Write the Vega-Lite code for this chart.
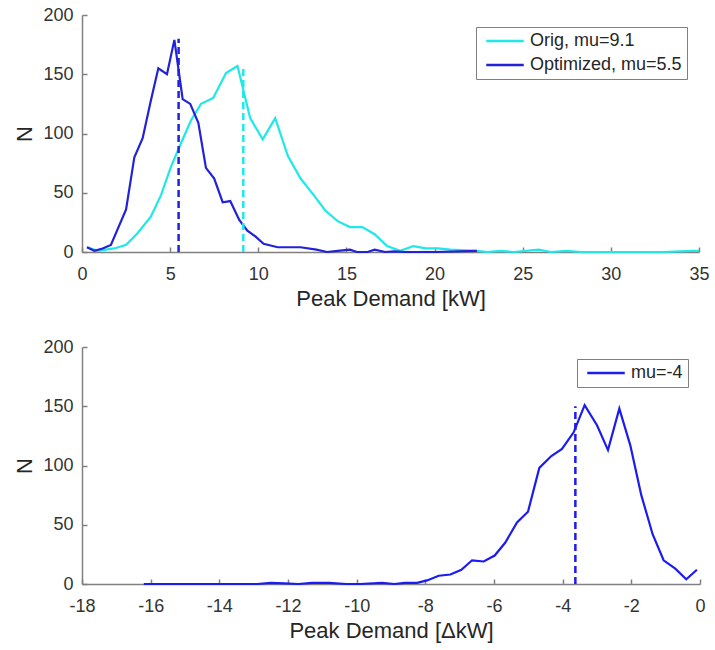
{
  "$schema": "https://vega.github.io/schema/vega-lite/v6.json",
  "background": "white",
  "padding": {"left": 13, "top": 6, "right": 5, "bottom": 5},
  "spacing": 29,
  "config": {
    "font": "Liberation Sans",
    "view": {"stroke": null},
    "axis": {
      "grid": false,
      "domainColor": "#808080",
      "domainWidth": 1.5,
      "tickColor": "#808080",
      "tickWidth": 1.5,
      "tickSize": -5,
      "labelFont": "Liberation Sans",
      "labelFontSize": 18,
      "labelColor": "#333333",
      "labelExpr": "'' + datum.value",
      "titleFont": "Liberation Sans",
      "titleFontSize": 22,
      "titleFontWeight": "normal",
      "titleColor": "#262626"
    },
    "axisX": {"labelPadding": 18, "titlePadding": 5, "labelFlush": false},
    "axisY": {"labelPadding": 14, "titlePadding": 6},
    "legend": {
      "orient": "top-right",
      "offset": 12,
      "labelFont": "Liberation Sans",
      "labelFontSize": 18,
      "labelColor": "#262626",
      "labelLimit": 400,
      "strokeColor": "#808080",
      "fillColor": "white",
      "padding": 5,
      "cornerRadius": 0,
      "symbolType": "M-0.5,0H4.5",
      "symbolSize": 225,
      "symbolStrokeWidth": 2.5,
      "labelOffset": 31,
      "rowPadding": 6
    }
  },
  "datasets": {
    "topLines": [
      {"series": "Orig, mu=9.1", "x": 0.28, "n": 4},
      {"series": "Orig, mu=9.1", "x": 0.89, "n": 1},
      {"series": "Orig, mu=9.1", "x": 1.83, "n": 3},
      {"series": "Orig, mu=9.1", "x": 2.5, "n": 6},
      {"series": "Orig, mu=9.1", "x": 3.16, "n": 16},
      {"series": "Orig, mu=9.1", "x": 3.91, "n": 30},
      {"series": "Orig, mu=9.1", "x": 4.48, "n": 48},
      {"series": "Orig, mu=9.1", "x": 5.05, "n": 72},
      {"series": "Orig, mu=9.1", "x": 5.62, "n": 92},
      {"series": "Orig, mu=9.1", "x": 6.18, "n": 111},
      {"series": "Orig, mu=9.1", "x": 6.75, "n": 125},
      {"series": "Orig, mu=9.1", "x": 7.44, "n": 130},
      {"series": "Orig, mu=9.1", "x": 8.17, "n": 151},
      {"series": "Orig, mu=9.1", "x": 8.82, "n": 157},
      {"series": "Orig, mu=9.1", "x": 9.54, "n": 113},
      {"series": "Orig, mu=9.1", "x": 10.25, "n": 95},
      {"series": "Orig, mu=9.1", "x": 10.96, "n": 113},
      {"series": "Orig, mu=9.1", "x": 11.68, "n": 81},
      {"series": "Orig, mu=9.1", "x": 12.4, "n": 62},
      {"series": "Orig, mu=9.1", "x": 13.2, "n": 47},
      {"series": "Orig, mu=9.1", "x": 13.8, "n": 35},
      {"series": "Orig, mu=9.1", "x": 14.5, "n": 26},
      {"series": "Orig, mu=9.1", "x": 15.2, "n": 21},
      {"series": "Orig, mu=9.1", "x": 15.9, "n": 21},
      {"series": "Orig, mu=9.1", "x": 16.6, "n": 15},
      {"series": "Orig, mu=9.1", "x": 17.3, "n": 5},
      {"series": "Orig, mu=9.1", "x": 18.05, "n": 1},
      {"series": "Orig, mu=9.1", "x": 18.8, "n": 5},
      {"series": "Orig, mu=9.1", "x": 19.5, "n": 3},
      {"series": "Orig, mu=9.1", "x": 20.2, "n": 3},
      {"series": "Orig, mu=9.1", "x": 20.9, "n": 2},
      {"series": "Orig, mu=9.1", "x": 22.4, "n": 1},
      {"series": "Orig, mu=9.1", "x": 23.0, "n": 0},
      {"series": "Orig, mu=9.1", "x": 23.7, "n": 1},
      {"series": "Orig, mu=9.1", "x": 24.5, "n": 0},
      {"series": "Orig, mu=9.1", "x": 25.9, "n": 2},
      {"series": "Orig, mu=9.1", "x": 26.6, "n": 0},
      {"series": "Orig, mu=9.1", "x": 27.5, "n": 1},
      {"series": "Orig, mu=9.1", "x": 28.3, "n": 0},
      {"series": "Orig, mu=9.1", "x": 30.5, "n": 0},
      {"series": "Orig, mu=9.1", "x": 31.8, "n": 0},
      {"series": "Orig, mu=9.1", "x": 33.0, "n": 0},
      {"series": "Orig, mu=9.1", "x": 34.6, "n": 1},
      {"series": "Orig, mu=9.1", "x": 35.0, "n": 1},
      {"series": "Optimized, mu=5.5", "x": 0.28, "n": 4},
      {"series": "Optimized, mu=5.5", "x": 0.7, "n": 1},
      {"series": "Optimized, mu=5.5", "x": 1.17, "n": 3},
      {"series": "Optimized, mu=5.5", "x": 1.64, "n": 6},
      {"series": "Optimized, mu=5.5", "x": 2.5, "n": 36},
      {"series": "Optimized, mu=5.5", "x": 2.97, "n": 80},
      {"series": "Optimized, mu=5.5", "x": 3.44, "n": 96},
      {"series": "Optimized, mu=5.5", "x": 3.91, "n": 128},
      {"series": "Optimized, mu=5.5", "x": 4.33, "n": 155},
      {"series": "Optimized, mu=5.5", "x": 4.82, "n": 150},
      {"series": "Optimized, mu=5.5", "x": 5.24, "n": 179},
      {"series": "Optimized, mu=5.5", "x": 5.71, "n": 129},
      {"series": "Optimized, mu=5.5", "x": 6.14, "n": 125},
      {"series": "Optimized, mu=5.5", "x": 6.6, "n": 109},
      {"series": "Optimized, mu=5.5", "x": 7.03, "n": 71},
      {"series": "Optimized, mu=5.5", "x": 7.5, "n": 62},
      {"series": "Optimized, mu=5.5", "x": 7.98, "n": 42},
      {"series": "Optimized, mu=5.5", "x": 8.41, "n": 43},
      {"series": "Optimized, mu=5.5", "x": 8.92, "n": 27},
      {"series": "Optimized, mu=5.5", "x": 9.38, "n": 18},
      {"series": "Optimized, mu=5.5", "x": 9.85, "n": 13},
      {"series": "Optimized, mu=5.5", "x": 10.3, "n": 7},
      {"series": "Optimized, mu=5.5", "x": 11.1, "n": 4},
      {"series": "Optimized, mu=5.5", "x": 12.4, "n": 4},
      {"series": "Optimized, mu=5.5", "x": 13.3, "n": 2},
      {"series": "Optimized, mu=5.5", "x": 13.9, "n": 0},
      {"series": "Optimized, mu=5.5", "x": 14.5, "n": 1},
      {"series": "Optimized, mu=5.5", "x": 15.2, "n": 2},
      {"series": "Optimized, mu=5.5", "x": 15.6, "n": 0},
      {"series": "Optimized, mu=5.5", "x": 16.2, "n": 0},
      {"series": "Optimized, mu=5.5", "x": 16.6, "n": 2},
      {"series": "Optimized, mu=5.5", "x": 17.2, "n": 0},
      {"series": "Optimized, mu=5.5", "x": 17.7, "n": 0.5},
      {"series": "Optimized, mu=5.5", "x": 18.3, "n": 0},
      {"series": "Optimized, mu=5.5", "x": 20.0, "n": 0},
      {"series": "Optimized, mu=5.5", "x": 22.4, "n": 1}
    ],
    "topMeans": [
      {"series": "Orig, mu=9.1", "mean": 9.15, "bottom": 0, "top": 157},
      {"series": "Optimized, mu=5.5", "mean": 5.48, "bottom": 0, "top": 180}
    ],
    "bottomLines": [
      {"series": "mu=-4", "x": -16.2, "n": 0},
      {"series": "mu=-4", "x": -15.5, "n": 0},
      {"series": "mu=-4", "x": -14.8, "n": 0},
      {"series": "mu=-4", "x": -14.1, "n": 0},
      {"series": "mu=-4", "x": -13.4, "n": 0},
      {"series": "mu=-4", "x": -12.9, "n": 0},
      {"series": "mu=-4", "x": -12.5, "n": 1},
      {"series": "mu=-4", "x": -12.1, "n": 0.5},
      {"series": "mu=-4", "x": -11.7, "n": 0},
      {"series": "mu=-4", "x": -11.3, "n": 1},
      {"series": "mu=-4", "x": -10.8, "n": 1},
      {"series": "mu=-4", "x": -10.3, "n": 0},
      {"series": "mu=-4", "x": -9.9, "n": 0},
      {"series": "mu=-4", "x": -9.27, "n": 1},
      {"series": "mu=-4", "x": -8.9, "n": 0},
      {"series": "mu=-4", "x": -8.6, "n": 1},
      {"series": "mu=-4", "x": -8.24, "n": 1},
      {"series": "mu=-4", "x": -7.95, "n": 3},
      {"series": "mu=-4", "x": -7.61, "n": 7},
      {"series": "mu=-4", "x": -7.27, "n": 8},
      {"series": "mu=-4", "x": -6.95, "n": 12},
      {"series": "mu=-4", "x": -6.64, "n": 20},
      {"series": "mu=-4", "x": -6.3, "n": 19},
      {"series": "mu=-4", "x": -5.98, "n": 24},
      {"series": "mu=-4", "x": -5.67, "n": 35},
      {"series": "mu=-4", "x": -5.33, "n": 52},
      {"series": "mu=-4", "x": -5.01, "n": 61},
      {"series": "mu=-4", "x": -4.68, "n": 98},
      {"series": "mu=-4", "x": -4.33, "n": 108},
      {"series": "mu=-4", "x": -4.02, "n": 114},
      {"series": "mu=-4", "x": -3.68, "n": 128},
      {"series": "mu=-4", "x": -3.36, "n": 151},
      {"series": "mu=-4", "x": -3.0, "n": 134},
      {"series": "mu=-4", "x": -2.68, "n": 113},
      {"series": "mu=-4", "x": -2.35, "n": 148},
      {"series": "mu=-4", "x": -2.03, "n": 117},
      {"series": "mu=-4", "x": -1.71, "n": 75},
      {"series": "mu=-4", "x": -1.38, "n": 42},
      {"series": "mu=-4", "x": -1.06, "n": 20},
      {"series": "mu=-4", "x": -0.72, "n": 13},
      {"series": "mu=-4", "x": -0.4, "n": 4},
      {"series": "mu=-4", "x": -0.09, "n": 12}
    ],
    "bottomMeans": [
      {"series": "mu=-4", "mean": -3.63, "bottom": 0, "top": 150}
    ]
  },
  "vconcat": [
    {
      "width": 617,
      "height": 237,
      "layer": [
        {
          "data": {"name": "topLines"},
          "mark": {"type": "line", "strokeWidth": 2.2},
          "encoding": {
            "x": {"field": "x", "type": "quantitative", "scale": {"domain": [0, 35], "nice": false}, "axis": {"values": [0, 5, 10, 15, 20, 25, 30, 35], "title": "Peak Demand [kW]"}},
            "y": {"field": "n", "type": "quantitative", "scale": {"domain": [0, 200], "nice": false}, "axis": {"values": [0, 50, 100, 150, 200], "title": "N"}},
            "color": {"field": "series", "type": "nominal", "scale": {"domain": ["Orig, mu=9.1", "Optimized, mu=5.5"], "range": ["#1ee8e8", "#2222d8"]}, "legend": {"title": null}},
            "order": {"field": "x", "type": "quantitative"}
          }
        },
        {
          "data": {"name": "topMeans"},
          "mark": {"type": "rule", "strokeWidth": 2.5, "strokeDash": [7, 4]},
          "encoding": {
            "x": {"field": "mean", "type": "quantitative"},
            "y": {"field": "bottom", "type": "quantitative"},
            "y2": {"field": "top"},
            "color": {"field": "series", "type": "nominal"}
          }
        }
      ]
    },
    {
      "width": 618,
      "height": 237,
      "layer": [
        {
          "data": {"name": "bottomLines"},
          "mark": {"type": "line", "strokeWidth": 2.2},
          "encoding": {
            "x": {"field": "x", "type": "quantitative", "scale": {"domain": [-18, 0], "nice": false}, "axis": {"values": [-18, -16, -14, -12, -10, -8, -6, -4, -2, 0], "title": "Peak Demand [ΔkW]"}},
            "y": {"field": "n", "type": "quantitative", "scale": {"domain": [0, 200], "nice": false}, "axis": {"values": [0, 50, 100, 150, 200], "title": "N"}},
            "color": {"field": "series", "type": "nominal", "scale": {"domain": ["mu=-4"], "range": ["#1c1cf0"]}, "legend": {"title": null}},
            "order": {"field": "x", "type": "quantitative"}
          }
        },
        {
          "data": {"name": "bottomMeans"},
          "mark": {"type": "rule", "strokeWidth": 2.5, "strokeDash": [7, 4]},
          "encoding": {
            "x": {"field": "mean", "type": "quantitative"},
            "y": {"field": "bottom", "type": "quantitative"},
            "y2": {"field": "top"},
            "color": {"field": "series", "type": "nominal"}
          }
        }
      ]
    }
  ],
  "resolve": {"scale": {"color": "independent"}}
}
